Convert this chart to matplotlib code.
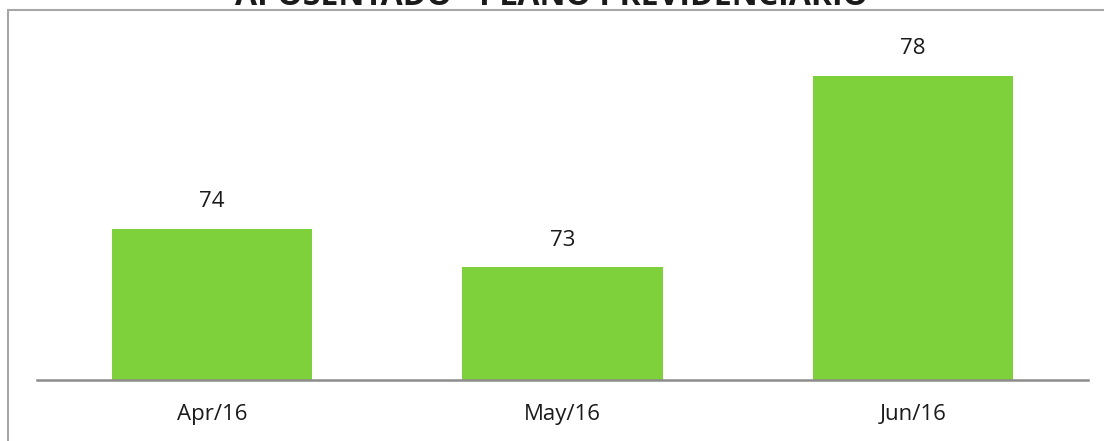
import matplotlib.pyplot as plt
from matplotlib.patches import Rectangle

plt.rcParams['font.family'] = ['Open Sans', 'DejaVu Sans']

title = "APOSENTADO - PLANO PREVIDENCIÁRIO"
months = ["Apr/16", "May/16", "Jun/16"]
values = [74, 73, 78]

fig = plt.figure(figsize=(11.04, 4.41), dpi=100)
W, H = 1104, 441

# outer chart frame (cropped in the original picture)
fig.patches.append(Rectangle((8 / W, -0.1), 1.2, 1 - 10 / H + 0.1,
                             transform=fig.transFigure, fill=False,
                             edgecolor='#a6a6a6', linewidth=1.5))

fig.text(0.5, 1 - 5 / H, title, ha='center', va='baseline',
         fontsize=23, fontweight='bold', color='#1a1a1a')

ax = fig.add_axes([37 / W, 1 - 380 / H, (1088 - 37) / W, (380 - 20) / H])
x = range(len(months))
bars = ax.bar(x, values, width=0.571, color='#7fd13b', zorder=2)
ax.set_xlim(-0.5, 2.5)
ax.set_ylim(70.06, 79.46)

for xi, v in zip(x, values):
    ax.annotate(str(v), (xi, v), xytext=(0, 12), textcoords='offset points',
                ha='center', va='bottom', fontsize=16, color='#1a1a1a')

ax.set_xticks(list(x))
ax.set_xticklabels(months, fontsize=16, color='#1a1a1a')
ax.tick_params(axis='x', length=0, pad=17)
ax.set_yticks([])
for s in ['top', 'right', 'left']:
    ax.spines[s].set_visible(False)
ax.spines['bottom'].set_color('#8c8c8c')
ax.spines['bottom'].set_linewidth(1.8)
ax.patch.set_alpha(0)

fig.savefig('out.png', dpi=100)
